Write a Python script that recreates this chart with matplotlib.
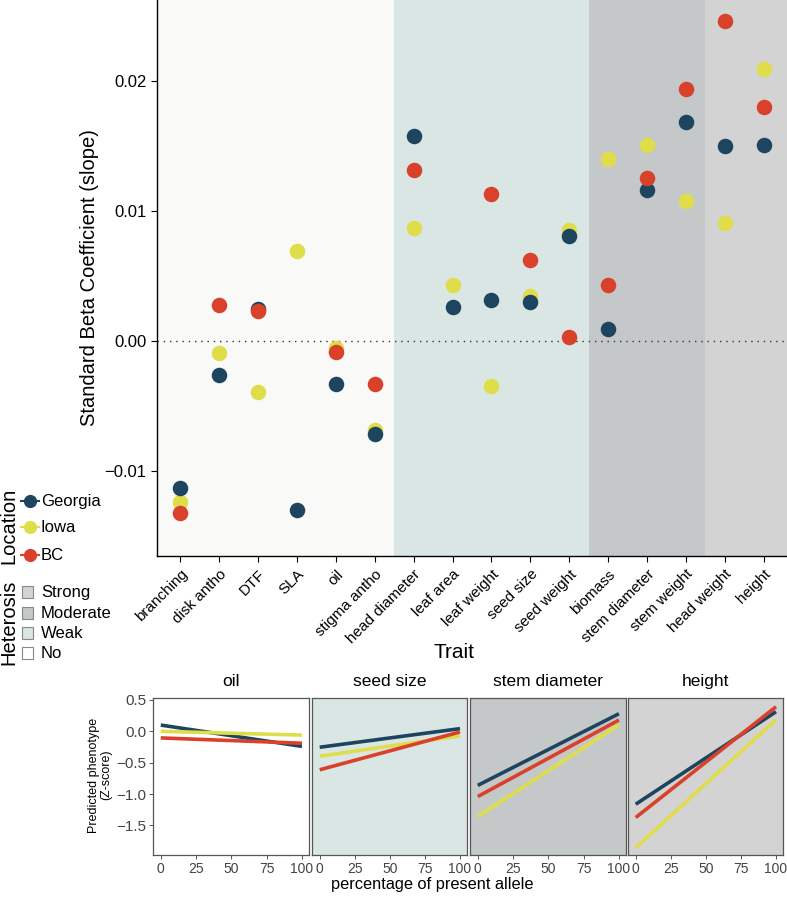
import numpy as np
import matplotlib
matplotlib.use("Agg")
import matplotlib.pyplot as plt
from matplotlib.lines import Line2D
from matplotlib.patches import Rectangle

plt.rcParams['font.family'] = ['Liberation Sans', 'DejaVu Sans']

# ---------------- data ----------------
traits = ['branching', 'disk antho', 'DTF', 'SLA', 'oil', 'stigma antho',
          'head diameter', 'leaf area', 'leaf weight', 'seed size', 'seed weight',
          'biomass', 'stem diameter', 'stem weight', 'head weight', 'height']
heterosis = ['No', 'No', 'No', 'No', 'No', 'No',
             'Weak', 'Weak', 'Weak', 'Weak', 'Weak',
             'Moderate', 'Moderate', 'Moderate', 'Strong', 'Strong']
georgia = [-0.0113, -0.00262, 0.00244, -0.0130, -0.0033, -0.00715,
           0.01575, 0.00259, 0.00318, 0.0030, 0.00805,
           0.0009, 0.01164, 0.01682, 0.01497, 0.01508]
iowa = [-0.0124, -0.00092, -0.0039, 0.00695, -0.00056, -0.00685,
        0.00867, 0.00428, -0.0035, 0.00349, 0.00854,
        0.01403, 0.01508, 0.01079, 0.00905, 0.0209]
bc = [-0.01323, 0.00274, 0.00228, np.nan, -0.00087, -0.0033,
      0.01313, np.nan, 0.01131, 0.0062, 0.00028,
      0.00428, 0.01251, 0.01936, 0.02459, 0.01803]

locations = ['Georgia', 'Iowa', 'BC']
loc_colors = {'Georgia': '#1d4560', 'Iowa': '#e0dd4a', 'BC': '#d9412b'}
het_levels = ['Strong', 'Moderate', 'Weak', 'No']
het_colors = {'Strong': '#d3d3d3', 'Moderate': '#c5c8c9', 'Weak': '#d9e6e4', 'No': '#f9f9f7'}

# bottom panels: predicted phenotype at 0% and 100% present allele
panel_traits = ['oil', 'seed size', 'stem diameter', 'height']
panel_het = ['No', 'Weak', 'Moderate', 'Strong']
allele_pct = [0, 100]
pred_georgia = [[0.10, -0.24], [-0.254, 0.043], [-0.862, 0.281], [-1.163, 0.313]]
pred_iowa = [[0.0, -0.06], [-0.397, -0.073], [-1.36, 0.106], [-1.857, 0.186]]
pred_bc = [[-0.105, -0.19], [-0.613, -0.01], [-1.04, 0.18], [-1.375, 0.392]]

# ---------------- figure ----------------
W, H = 787, 897
fig = plt.figure(figsize=(W / 100, H / 100), dpi=100)
fig.patch.set_facecolor('white')

def fx(px):
    return px / W

def fy(py):
    return 1 - py / H

# main axes
ax = fig.add_axes([fx(157), fy(556), fx(787) - fx(157), fy(0) - fy(556)])
x = np.arange(len(traits))
ax.set_xlim(-0.6, len(traits) - 1 + 0.6)
ax.set_ylim(-0.01654, 0.02623)

# background bands
start = 0
for i in range(1, len(traits) + 1):
    if i == len(traits) or heterosis[i] != heterosis[start]:
        lo = -0.6 if start == 0 else start - 0.5
        hi = len(traits) - 1 + 0.6 if i == len(traits) else i - 0.5
        ax.axvspan(lo, hi, color=het_colors[heterosis[start]], lw=0, zorder=0)
        start = i

ax.axhline(0, color='#333333', lw=1.0, ls=(0, (1, 3.5)), zorder=1)

series = {'Georgia': georgia, 'Iowa': iowa, 'BC': bc}
for z, loc in zip([3, 2, 4], locations):
    ax.scatter(x, series[loc], s=125, color=loc_colors[loc], zorder=z, lw=0)

for s in ['top', 'right']:
    ax.spines[s].set_visible(False)
for s in ['left', 'bottom']:
    ax.spines[s].set_color('black')
    ax.spines[s].set_linewidth(1.0)
ax.set_yticks([-0.01, 0.0, 0.01, 0.02])
ax.set_yticklabels(['\u22120.01', '0.00', '0.01', '0.02'])
ax.set_xticks(x)
ax.set_xticklabels(traits, rotation=45, ha='right', va='top', rotation_mode='anchor')
ax.tick_params(axis='both', direction='out', length=4, width=0.8, colors='black', labelsize=12)
ax.tick_params(axis='x', labelsize=11, pad=4)
ax.set_ylabel('Standard Beta Coefficient (slope)', fontsize=14.5, labelpad=4)
fig.text(fx(454), fy(652), 'Trait', ha='center', va='center', fontsize=15)

# legend: Location
fig.text(fx(9), fy(526), 'Location', rotation=90, ha='center', va='center', fontsize=14.5)
for loc, py in zip(locations, [501, 527, 555]):
    fig.add_artist(Line2D([fx(21), fx(39)], [fy(py), fy(py)], color=loc_colors[loc], lw=1.5,
                          transform=fig.transFigure))
    fig.add_artist(Line2D([fx(30)], [fy(py)], marker='o', markersize=8.5, color=loc_colors[loc],
                          lw=0, transform=fig.transFigure))
    fig.text(fx(41), fy(py), loc, ha='left', va='center', fontsize=12)

# legend: Heterosis
fig.text(fx(9), fy(622), 'Heterosis', rotation=90, ha='center', va='center', fontsize=14.5)
for lev, py in zip(het_levels, [592, 613, 633, 653]):
    col = 'white' if lev == 'No' else het_colors[lev]
    fig.add_artist(Rectangle((fx(22), fy(py + 6)), fx(11), fy(0) - fy(12), transform=fig.transFigure,
                             facecolor=col, edgecolor='#888888', lw=0.8))
    fig.text(fx(41), fy(py), lev, ha='left', va='center', fontsize=12)

# bottom panels
panel_x = [(153, 309), (312, 467), (470, 626), (628, 783)]
preds = {'Georgia': pred_georgia, 'Iowa': pred_iowa, 'BC': pred_bc}
for k, (name, (x0, x1)) in enumerate(zip(panel_traits, panel_x)):
    pax = fig.add_axes([fx(x0), fy(855), fx(x1) - fx(x0), fy(698.3) - fy(855)])
    face = 'white' if panel_het[k] == 'No' else het_colors[panel_het[k]]
    pax.set_facecolor(face)
    for loc in locations:
        pax.plot(allele_pct, preds[loc][k], color=loc_colors[loc], lw=2.6, solid_capstyle='butt')
    pax.set_xlim(-5.5, 105)
    pax.set_ylim(-1.973, 0.527)
    pax.set_xticks([0, 25, 50, 75, 100])
    pax.set_yticks([0.5, 0.0, -0.5, -1.0, -1.5])
    if k == 0:
        pax.set_yticklabels(['0.5', '0.0', '\u22120.5', '\u22121.0', '\u22121.5'])
    else:
        pax.tick_params(axis='y', left=False, labelleft=False)
    for s in pax.spines.values():
        s.set_color('#555555')
        s.set_linewidth(0.9)
    pax.tick_params(axis='both', direction='out', length=3, width=0.7, colors='#555555',
                    labelcolor='#444444', labelsize=10, pad=2)
    pax.tick_params(axis='y', labelsize=11)
    pax.set_title(name, fontsize=12.5, pad=9)

fig.text(fx(100), fy(775), 'Predicted phenotype\n(Z-score)', rotation=90, ha='center', va='center',
         fontsize=9, linespacing=1.1)
fig.text(fx(432), fy(884), 'percentage of present allele', ha='center', va='center', fontsize=11.8)

fig.savefig('out.png', dpi=100, facecolor='white')
